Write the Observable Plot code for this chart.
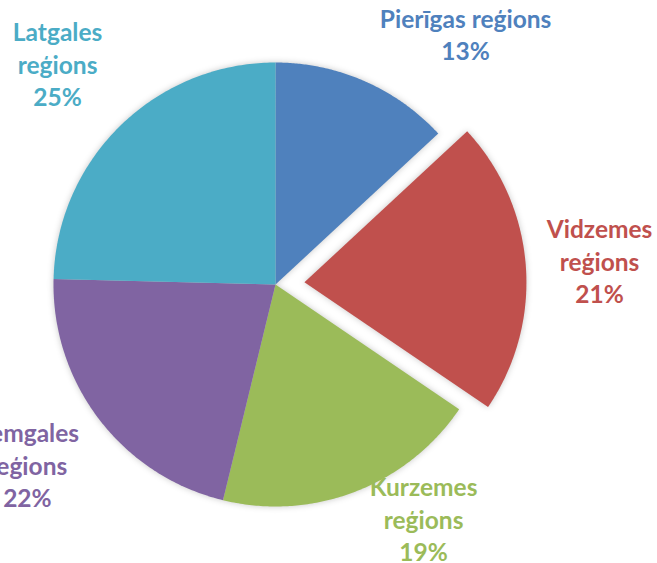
<!DOCTYPE html>
<html><head><meta charset="utf-8">
<script src="https://cdn.jsdelivr.net/npm/d3@7"></script>
<script src="https://cdn.jsdelivr.net/npm/@observablehq/plot@0.6"></script>
<style>
body{margin:0;background:#fff}
#chart svg g[aria-label="line"]{filter:drop-shadow(0 0 3px rgba(0,0,0,0.22));}
</style>
</head><body><div id="chart"></div>
<script>
// ---- data ----
const regions = ["Pierīgas reģions","Vidzemes reģions","Kurzemes reģions","Zemgales reģions","Latgales reģions"];
const labelTexts = ["Pierīgas reģions","Vidzemes\nreģions","Kurzemes\nreģions","Zemgales\nreģions","Latgales\nreģions"];
const shares = [13.1, 21.4, 19.3, 21.6, 24.6]; // percent, shown rounded
const colors = ["#4F81BD","#C0504D","#9BBB59","#8064A2","#4BACC6"];
const exploded = [false, true, false, false, false];

// ---- layout (not data) ----
const W = 657, H = 563;
const cx = 275, cy = 284, R = 222, explodeDist = 29;
const labelRadius = [312.4, 295.7, 279.4, 308.2, 308.3];
const labelAngleShift = [13.9, 0.65, -10.95, 1.05, -0.7];

const total = d3.sum(shares);
const rad = a => a * Math.PI / 180;
const pts = [], labels = [];
let acc = 0;
regions.forEach((reg, i) => {
  const a0 = acc / total * 360, a1 = (acc + shares[i]) / total * 360;
  acc += shares[i];
  const mid = (a0 + a1) / 2;
  const ox = exploded[i] ? explodeDist * Math.sin(rad(mid)) : 0;
  const oy = exploded[i] ? -explodeDist * Math.cos(rad(mid)) : 0;
  pts.push({region: reg, x: ox, y: oy});
  const n = 120;
  for (let k = 0; k <= n; k++) {
    const a = a0 + (a1 - a0) * k / n;
    pts.push({region: reg, x: ox + R * Math.sin(rad(a)), y: oy - R * Math.cos(rad(a))});
  }
  pts.push({region: reg, x: ox, y: oy});
  const la = mid + labelAngleShift[i];
  labels.push({
    region: reg,
    text: labelTexts[i] + "\n" + Math.round(shares[i] / total * 100) + "%",
    x: ox + labelRadius[i] * Math.sin(rad(la)),
    y: oy - labelRadius[i] * Math.cos(rad(la))
  });
});

const chart = Plot.plot({
  width: W, height: H,
  margin: 0,
  x: {domain: [-cx, W - cx], range: [0, W], axis: null},
  y: {domain: [-cy, H - cy], range: [0, H], axis: null},
  color: {domain: regions, range: colors},
  style: {background: "#fff"},
  marks: [
    Plot.line(pts, {x: "x", y: "y", z: "region", fill: "region", stroke: "none", curve: "linear"}),
    Plot.text(labels, {x: "x", y: "y", text: "text", fill: "region", dy: -3,
      fontSize: 24.5, fontWeight: "bold", fontFamily: "Lato, 'Open Sans', sans-serif",
      lineHeight: 1.33, textAnchor: "middle"})
  ]
});
document.getElementById("chart").appendChild(chart);
</script>
</body></html>
